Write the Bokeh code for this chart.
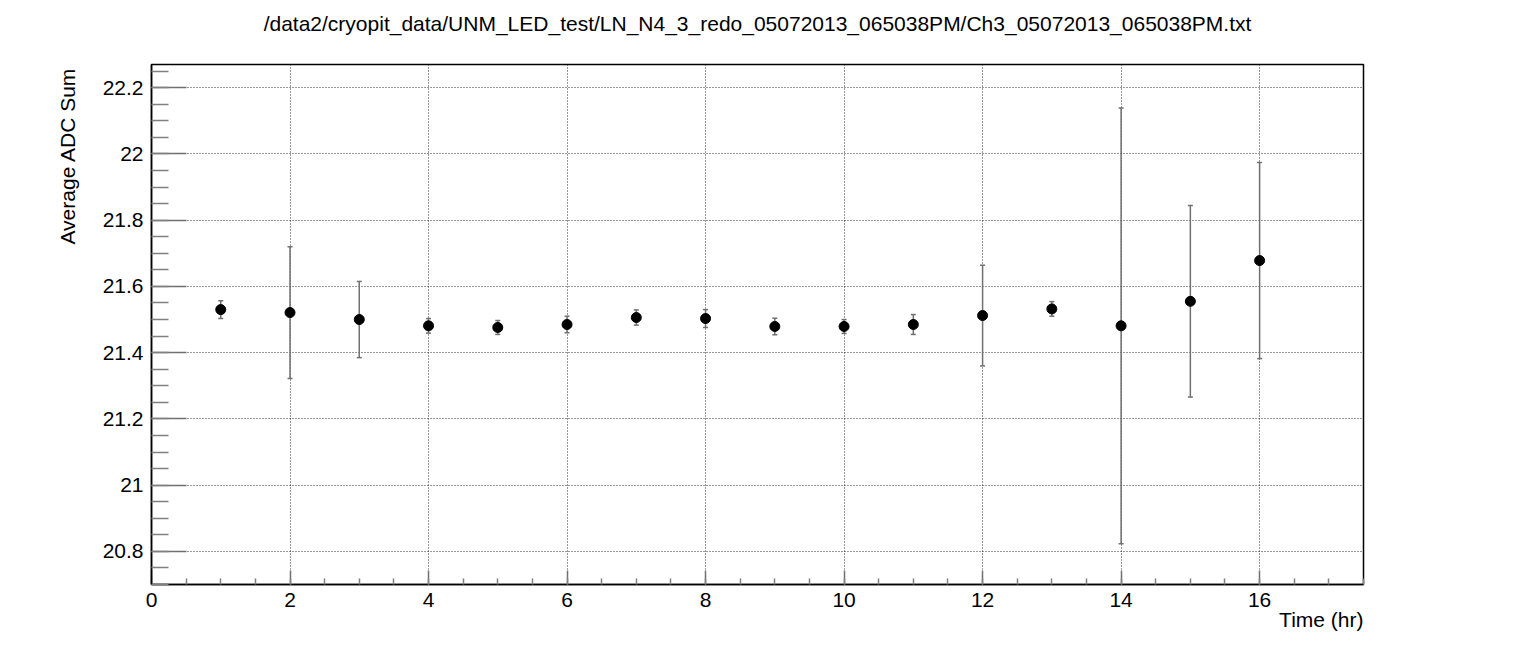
from bokeh.plotting import figure
from bokeh.models import (Whisker, TeeHead, ColumnDataSource, SingleIntervalTicker,
                          CustomJSTickFormatter, Range1d, Title)
from bokeh.embed import file_html
from bokeh.resources import INLINE

time_hr = [1, 2, 3, 4, 5, 6, 7, 8, 9, 10, 11, 12, 13, 14, 15, 16]
adc_mean = [21.530, 21.521, 21.500, 21.481, 21.476, 21.485, 21.506, 21.503,
            21.479, 21.479, 21.485, 21.512, 21.532, 21.481, 21.555, 21.678]
adc_err = [0.027, 0.199, 0.115, 0.022, 0.021, 0.025, 0.023, 0.027,
           0.025, 0.021, 0.030, 0.152, 0.022, 0.658, 0.289, 0.296]

title_text = "/data2/cryopit_data/UNM_LED_test/LN_N4_3_redo_05072013_065038PM/Ch3_05072013_065038PM.txt"
x_label = "Time (hr)"
y_label = "Average ADC Sum"

FONT = "Liberation Sans"
FS = "21px"
X0, X1 = 0.0, 17.5
Y0, Y1 = 20.7, 22.27

src = ColumnDataSource(dict(
    x=time_hr, y=adc_mean,
    lo=[m - e for m, e in zip(adc_mean, adc_err)],
    hi=[m + e for m, e in zip(adc_mean, adc_err)],
))

p = figure(width=1507, height=643, output_backend="svg", toolbar_location=None,
           x_range=Range1d(X0, X1), y_range=Range1d(Y0, Y1),
           min_border_left=151, min_border_right=144, min_border_top=64, min_border_bottom=59)
# an empty second line makes the title box taller so the text sits near the top edge
p.title = Title(text=title_text + "\n", align="center", vertical_align="top", text_font=FONT,
                text_font_size=FS, text_font_style="normal", text_color="black", offset=0)
p.title.standoff = 10

p.background_fill_color = "white"
p.border_fill_color = "white"
p.outline_line_color = "black"
p.outline_line_width = 1.5

for ax in (p.xaxis[0], p.yaxis[0]):
    ax.axis_line_color = "black"
    ax.axis_line_width = 1.5
    ax.major_tick_out = 0
    ax.minor_tick_out = 0
    ax.major_tick_line_color = "#707070"
    ax.minor_tick_line_color = "#808080"
    ax.major_tick_line_width = 1.5
    ax.minor_tick_line_width = 1.5
    ax.major_label_text_font = FONT
    ax.major_label_text_font_size = FS
    ax.major_label_text_color = "black"

p.xaxis[0].ticker = SingleIntervalTicker(interval=2, num_minor_ticks=4)
p.xaxis[0].major_tick_in = 14
p.xaxis[0].minor_tick_in = 6
p.xaxis[0].major_label_standoff = 8
p.xaxis[0].formatter = CustomJSTickFormatter(code="return String(Math.round(tick));")

p.yaxis[0].ticker = SingleIntervalTicker(interval=0.2, num_minor_ticks=4)
p.yaxis[0].major_tick_in = 35
p.yaxis[0].minor_tick_in = 17
p.yaxis[0].major_label_standoff = 8
p.yaxis[0].formatter = CustomJSTickFormatter(code="return String(Math.round(tick*10)/10);")

# axis titles, aligned to the end of each axis as in the reference
xt = Title(text=x_label, align="right", text_font=FONT, text_font_size=FS,
           text_font_style="normal", text_color="black", offset=0, standoff=-8)
p.add_layout(xt, "below")
yt = Title(text=y_label, align="right", text_font=FONT, text_font_size=FS,
           text_font_style="normal", text_color="black", offset=3, standoff=41)
p.add_layout(yt, "left")

for g in (p.xgrid[0], p.ygrid[0]):
    g.grid_line_color = "black"
    g.grid_line_alpha = 0.8
    g.grid_line_dash = "1 2"
    g.grid_line_width = 1

w = Whisker(source=src, base="x", upper="hi", lower="lo", dimension="height",
            line_color="#707070", line_width=1.5,
            upper_head=TeeHead(size=5, line_color="#707070", line_width=1.5),
            lower_head=TeeHead(size=5, line_color="#707070", line_width=1.5))
p.add_layout(w)

p.scatter("x", "y", source=src, marker="circle", size=10, color="black")

open("out.html", "w").write(file_html(p, INLINE))
